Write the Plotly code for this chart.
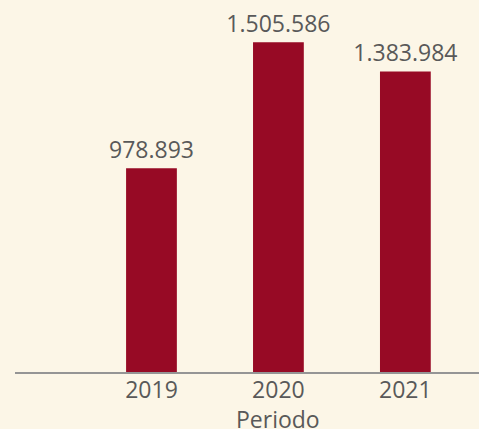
import plotly.graph_objects as go

# Values per period
periods = ["2019", "2020", "2021"]
values = [978893, 1505586, 1383984]

bar_color = "#970A25"
text_color = "#595959"
bg_color = "#FCF6E7"
font_family = "Open Sans"

fig = go.Figure(
    go.Bar(
        x=periods,
        y=values,
        width=0.4,
        marker=dict(color=bar_color, line=dict(width=0)),
        texttemplate="%{y:,.0f}",
        textposition="outside",
        constraintext="none",
        textfont=dict(family=font_family, size=23, color=text_color),
        cliponaxis=False,
    )
)

fig.add_annotation(
    x=1, xref="x", y=0, yref="paper",
    yshift=-30,
    text="Periodo",
    showarrow=False,
    yanchor="top",
    borderpad=0,
    font=dict(family=font_family, size=23, color=text_color),
)

fig.update_layout(
    width=479,
    height=429,
    margin=dict(l=15, r=0, t=0, b=57),
    paper_bgcolor=bg_color,
    plot_bgcolor=bg_color,
    separators=",.",
    showlegend=False,
    bargap=0.6,
    xaxis=dict(
        type="category",
        range=[-1.075, 2.58],
        showline=True,
        linecolor="#959595",
        linewidth=2,
        showgrid=False,
        zeroline=False,
        ticks="",
        ticklabelstandoff=-4,
        tickfont=dict(family=font_family, size=23, color=text_color),
    ),
    yaxis=dict(
        range=[127500, 1682700],
        visible=False,
        showgrid=False,
        zeroline=False,
    ),
)

fig.write_html("out.html")
